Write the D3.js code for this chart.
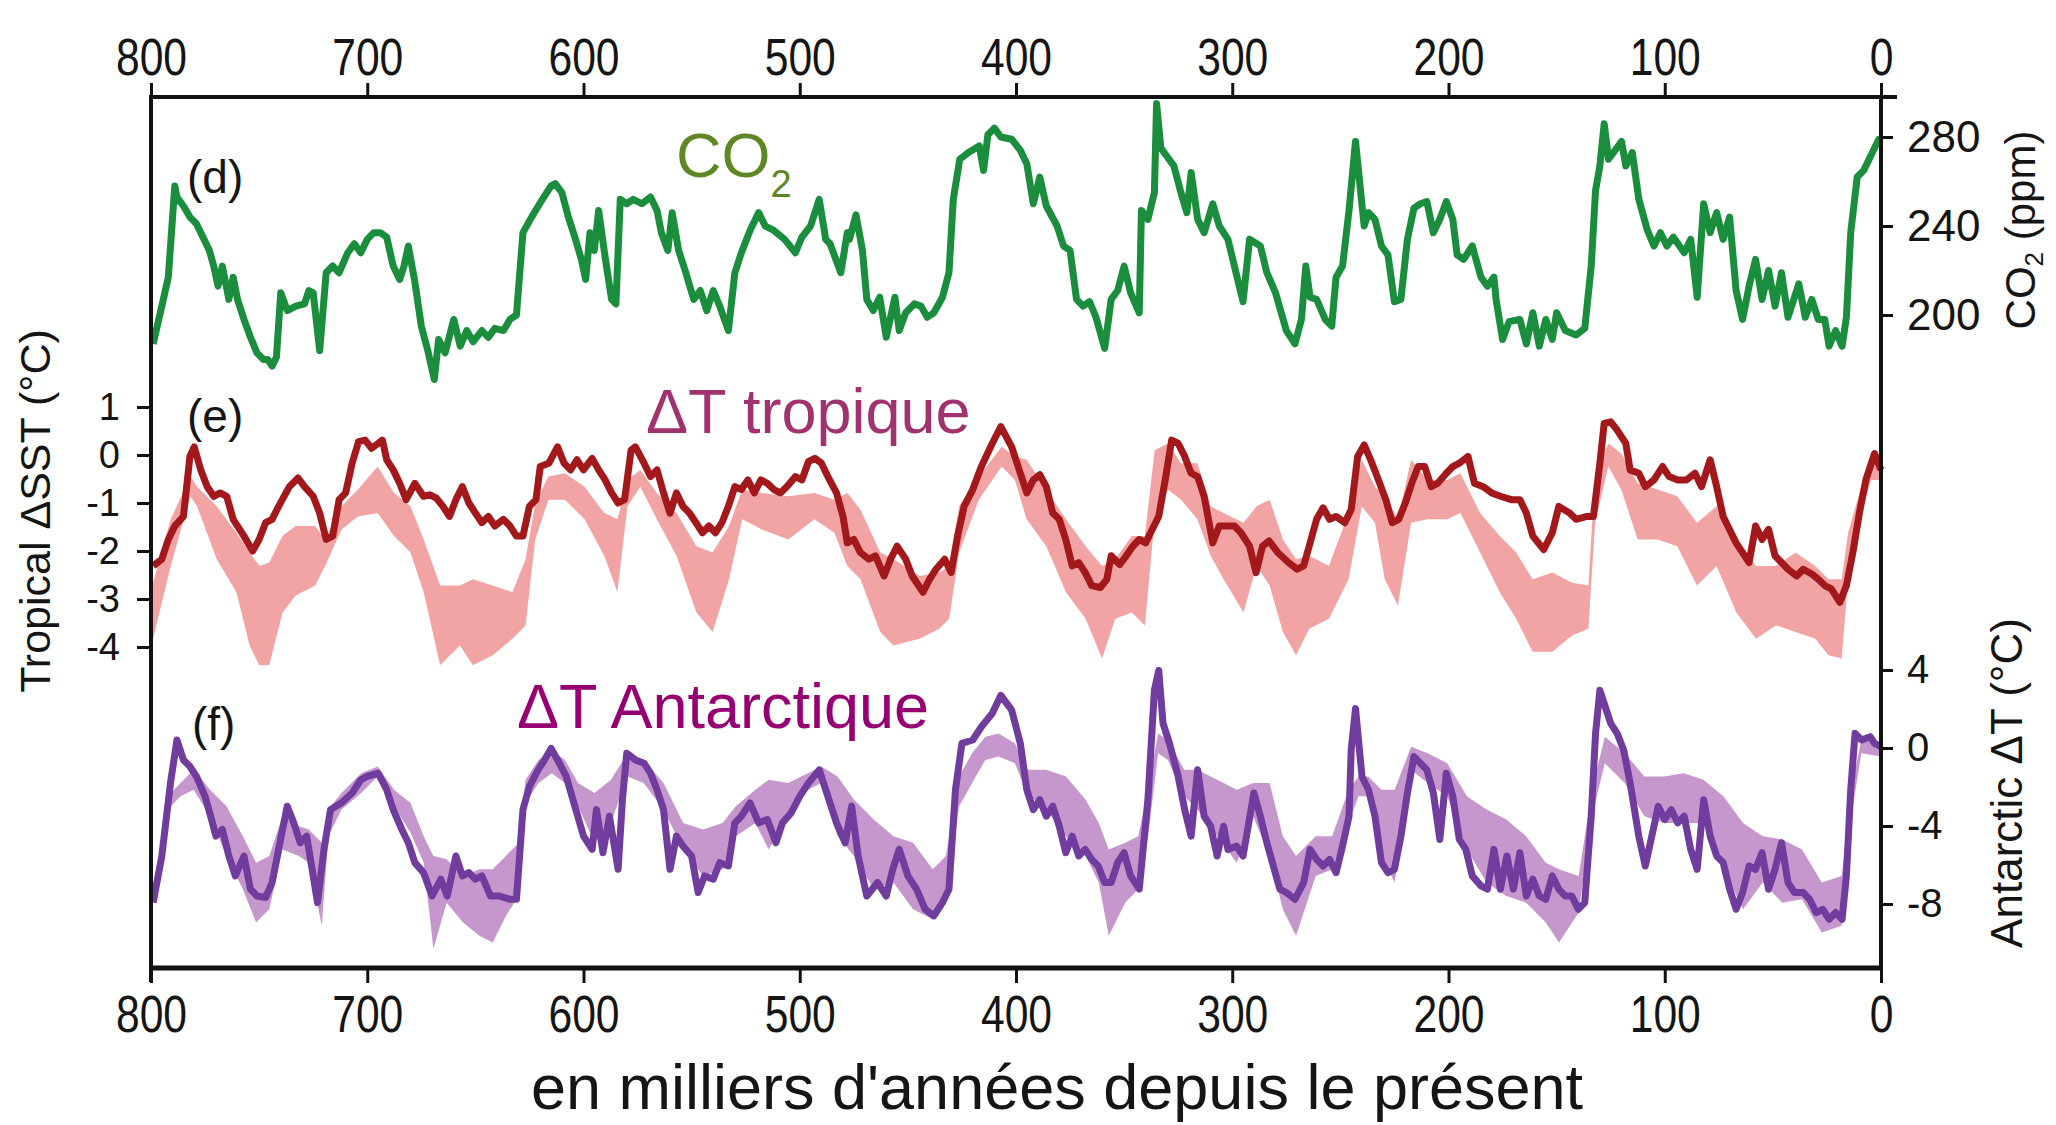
<!DOCTYPE html>
<html><head><meta charset="utf-8">
<script src="https://cdn.jsdelivr.net/npm/d3@7"></script>
<style>body{margin:0;background:#fff}svg{display:block}</style>
</head><body><svg id="c" width="2056" height="1125"></svg>
<script>
// ---------- data ----------
const xTicks = [800,700,600,500,400,300,200,100,0];
const co2Ticks = [200,240,280];
const sstTicks = [1,0,-1,-2,-3,-4];
const antTicks = [4,0,-4,-8];

// [age (ka), CO2 ppm]
const co2Series = [[799,187],[795,204],[792,217],[789,258],[788,253],[785,249],[782,244],[779,241],[776,235],[773,229],[771,222],[769,213],[767,222],[764,207],[762,217],[760,207],[757,198],[754,190],[751,183],[748,180],[746,180],[744,177],[742,181],[740,210],[737,202],[733,204],[729,205],[727,211],[725,210],[722,184],[719,219],[716,222],[713,219],[709,228],[706,232],[703,228],[700,234],[697,237],[694,237],[691,235],[688,222],[685,216],[683,222],[681,231],[678,215],[675,195],[672,184],[669,171],[667,189],[664,183],[660,198],[657,186],[654,193],[651,188],[647,193],[644,190],[641,194],[637,193],[634,198],[631,200],[628,237],[624,244],[619,252],[615,258],[613,259],[610,255],[607,244],[604,235],[601,225],[599,216],[597,237],[595,229],[593,247],[590,226],[587,207],[585,205],[583,252],[580,250],[577,252],[573,250],[569,253],[566,247],[564,237],[561,229],[559,246],[556,229],[553,220],[549,207],[546,211],[543,202],[540,211],[537,204],[533,193],[530,219],[527,228],[523,238],[519,246],[516,240],[512,238],[507,234],[502,228],[499,235],[495,240],[491,252],[488,234],[486,232],[481,219],[478,237],[477,234],[474,245],[471,229],[469,207],[466,202],[463,208],[460,190],[456,208],[454,193],[451,201],[447,205],[444,204],[441,199],[438,201],[434,208],[431,219],[429,252],[426,270],[422,273],[417,276],[415,265],[413,281],[410,284],[407,280],[402,279],[398,274],[395,268],[392,250],[389,262],[386,249],[381,240],[378,231],[375,229],[372,207],[369,204],[366,206],[363,199],[359,185],[356,207],[353,211],[350,222],[347,210],[343,201],[342,247],[339,243],[336,255],[335,295],[333,275],[330,271],[327,267],[324,256],[321,246],[319,264],[316,243],[313,237],[309,250],[306,240],[302,234],[299,222],[295,206],[292,234],[287,231],[284,219],[280,210],[275,193],[271,187],[268,198],[266,222],[264,208],[261,207],[257,198],[254,195],[252,217],[249,222],[246,247],[243,278],[239,240],[237,246],[234,243],[231,231],[228,227],[225,206],[222,207],[219,234],[216,248],[213,250],[210,251],[207,237],[204,243],[201,251],[198,243],[196,227],[193,225],[189,231],[185,217],[182,213],[179,217],[178,207],[175,189],[172,197],[167,198],[164,187],[161,201],[158,186],[155,198],[152,189],[150,201],[146,193],[141,191],[137,194],[134,222],[132,256],[130,267],[128,286],[126,270],[123,274],[120,278],[118,267],[115,273],[112,252],[108,238],[105,231],[102,237],[99,231],[96,235],[91,228],[88,234],[85,208],[82,250],[79,237],[76,246],[73,234],[70,244],[67,211],[64,198],[61,213],[58,225],[55,207],[52,220],[49,204],[46,219],[43,199],[38,214],[35,199],[32,207],[29,198],[26,198],[24,186],[21,193],[18,186],[16,199],[14,237],[11,262],[8,265],[5,271],[1,279],[0,279]];

// [age (ka), tropical ΔSST °C]
const sstSeries = [[799,-2.31],[795,-2.17],[792,-1.76],[789,-1.48],[785,-1.28],[782,-0.03],[780,0.17],[777,-0.31],[774,-0.66],[771,-0.86],[768,-0.79],[765,-0.86],[762,-1.34],[757,-1.69],[753,-2.0],[750,-1.76],[747,-1.41],[744,-1.34],[741,-1.07],[736,-0.66],[732,-0.48],[729,-0.66],[725,-0.86],[722,-1.21],[719,-1.76],[716,-1.69],[713,-0.93],[710,-0.79],[707,-0.17],[704,0.28],[701,0.31],[698,0.14],[695,0.24],[693,0.31],[691,-0.10],[688,-0.31],[685,-0.59],[682,-0.93],[678,-0.59],[674,-0.86],[671,-0.83],[668,-0.90],[665,-1.07],[662,-1.28],[659,-0.93],[656,-0.66],[653,-1.00],[650,-1.21],[647,-1.41],[644,-1.28],[641,-1.48],[637,-1.34],[634,-1.48],[631,-1.69],[628,-1.69],[625,-1.07],[622,-0.93],[620,-0.24],[616,-0.17],[612,0.17],[609,-0.17],[606,-0.31],[603,-0.10],[600,-0.31],[596,-0.07],[593,-0.31],[590,-0.52],[587,-0.79],[584,-1.00],[581,-0.93],[578,0.10],[576,0.17],[572,-0.17],[569,-0.45],[566,-0.31],[563,-0.79],[560,-1.21],[557,-0.79],[554,-1.07],[551,-1.21],[548,-1.41],[545,-1.62],[542,-1.48],[539,-1.62],[536,-1.41],[533,-1.07],[530,-0.66],[527,-0.72],[524,-0.52],[521,-0.79],[518,-0.52],[515,-0.59],[512,-0.72],[509,-0.79],[506,-0.66],[502,-0.45],[499,-0.52],[496,-0.14],[493,-0.07],[490,-0.17],[487,-0.45],[483,-0.79],[480,-1.28],[478,-1.83],[475,-1.76],[472,-2.03],[468,-2.17],[465,-2.10],[461,-2.52],[458,-2.17],[455,-1.90],[451,-2.17],[448,-2.52],[443,-2.86],[440,-2.59],[437,-2.38],[433,-2.17],[430,-2.45],[427,-1.69],[424,-1.07],[420,-0.72],[416,-0.24],[411,0.24],[407,0.59],[402,0.17],[398,-0.38],[395,-0.79],[392,-0.52],[389,-0.41],[386,-0.66],[383,-1.21],[380,-1.34],[377,-1.76],[374,-2.31],[371,-2.24],[368,-2.45],[365,-2.72],[361,-2.76],[358,-2.59],[356,-2.10],[352,-2.28],[349,-2.10],[346,-1.90],[343,-1.76],[340,-1.83],[337,-1.55],[334,-1.28],[331,-0.52],[328,0.31],[325,0.24],[322,-0.03],[319,-0.38],[316,-0.45],[313,-0.86],[309,-1.83],[306,-1.48],[302,-1.48],[299,-1.48],[296,-1.62],[292,-1.90],[289,-2.45],[286,-1.90],[283,-1.79],[279,-2.03],[274,-2.24],[270,-2.38],[267,-2.31],[264,-1.83],[261,-1.34],[258,-1.10],[255,-1.34],[252,-1.28],[248,-1.41],[245,-1.14],[242,-0.03],[239,0.21],[236,-0.10],[233,-0.45],[229,-0.93],[226,-1.41],[223,-1.34],[220,-1.00],[217,-0.59],[214,-0.24],[211,-0.24],[208,-0.66],[205,-0.59],[201,-0.38],[198,-0.24],[195,-0.17],[191,-0.03],[188,-0.59],[184,-0.66],[180,-0.79],[176,-0.86],[171,-0.93],[167,-0.93],[164,-1.21],[161,-1.69],[156,-1.97],[152,-1.62],[149,-1.07],[144,-1.21],[141,-1.34],[136,-1.28],[133,-1.28],[130,-0.17],[128,0.66],[125,0.69],[122,0.52],[118,0.24],[116,-0.31],[112,-0.38],[109,-0.66],[105,-0.52],[101,-0.24],[98,-0.45],[94,-0.52],[90,-0.52],[86,-0.38],[83,-0.66],[79,-0.10],[76,-0.66],[73,-1.28],[67,-1.83],[61,-2.24],[58,-1.48],[55,-1.76],[52,-1.55],[49,-2.10],[46,-2.24],[43,-2.38],[39,-2.52],[36,-2.38],[32,-2.48],[29,-2.59],[26,-2.72],[23,-2.79],[19,-3.07],[16,-2.72],[13,-2.03],[10,-1.21],[7,-0.52],[3,0.03],[0,-0.31]];

// [age (ka), upper, lower] tropical ΔSST envelope
const sstBand = [[799.4,-2.72,-3.90],[790.9,-1.34,-2.31],[781.8,-0.45,-0.86],[778.7,-0.66,-1.07],[769.6,-1.07,-2.17],[760.5,-1.62,-2.86],[754.4,-2.03,-3.97],[749.9,-2.31,-4.38],[745.3,-2.24,-4.38],[739.2,-1.69,-3.28],[733.2,-1.48,-2.93],[724.1,-1.48,-2.72],[719.5,-1.76,-2.31],[711.9,-1.07,-1.55],[704.3,-0.72,-1.28],[695.2,-0.24,-1.21],[687.6,-0.79,-1.69],[680,-1.07,-2.03],[673.9,-1.76,-2.86],[666.3,-2.72,-4.38],[657.2,-2.72,-3.97],[651.1,-2.59,-4.38],[642,-2.72,-4.17],[632.9,-2.86,-3.83],[626.8,-2.17,-3.55],[622.3,-1.00,-1.76],[616.2,-0.45,-0.93],[608.6,-0.38,-0.93],[599.5,-0.66,-1.34],[590.4,-1.21,-2.10],[584.3,-1.34,-2.86],[579.7,-0.52,-1.07],[573.7,-0.31,-0.66],[566.1,-0.79,-1.34],[557,-1.21,-2.10],[547.8,-1.90,-3.28],[540.3,-2.03,-3.69],[532.7,-1.48,-2.59],[526.6,-0.72,-1.34],[517.5,-0.79,-1.55],[505.3,-0.86,-1.76],[493.2,-0.79,-1.34],[484,-0.93,-1.62],[478,-0.79,-2.31],[471.9,-1.14,-2.59],[462.8,-2.03,-3.69],[456.7,-2.17,-3.97],[444.6,-2.52,-3.83],[435.5,-2.45,-3.62],[430.9,-2.31,-3.41],[426.3,-1.07,-2.03],[417.2,-0.45,-0.93],[406.6,0.17,-0.24],[400.5,-0.03,-0.52],[395.1,-0.10,-1.34],[386,-0.72,-1.90],[376.9,-1.34,-2.86],[367.8,-1.90,-3.41],[360.2,-2.31,-4.24],[354.1,-2.17,-3.41],[346.5,-1.69,-3.28],[340.4,-1.69,-3.55],[335.9,0.10,-1.34],[329.8,0.24,-0.72],[323.7,-0.17,-0.93],[316.1,-0.17,-1.34],[310,-1.07,-2.10],[304,-1.21,-2.59],[294.8,-1.41,-3.28],[288.8,-1.07,-2.31],[282.7,-0.93,-2.72],[276.6,-1.76,-3.69],[270.5,-2.17,-4.17],[264.4,-2.10,-3.62],[255.3,-2.31,-3.41],[246.2,-1.21,-2.59],[240.1,-0.10,-1.07],[234,-0.66,-1.41],[229.5,-0.86,-2.59],[223.4,-1.34,-3.14],[217.3,-0.10,-1.41],[209.7,-0.52,-1.34],[200.6,-0.52,-1.34],[194.5,-0.38,-1.21],[185.4,-1.21,-2.03],[176.3,-1.69,-2.86],[168.7,-2.03,-3.41],[161.1,-2.59,-4.10],[152,-2.45,-4.10],[142.9,-2.66,-3.76],[135.3,-2.72,-3.62],[132.2,-0.38,-1.41],[126.1,0.24,-0.24],[120.1,0.03,-0.72],[112.5,-0.59,-1.76],[103.3,-0.72,-1.76],[94.2,-0.86,-1.90],[85.1,-1.41,-2.72],[76,-1.07,-2.31],[66.9,-1.76,-3.28],[57.8,-2.31,-3.83],[48.6,-2.31,-3.55],[39.5,-2.03,-3.69],[30.4,-2.31,-3.83],[24.3,-2.59,-4.17],[18.2,-2.59,-4.24],[15.2,-1.62,-2.59],[9.1,-0.66,-1.21],[4.6,-0.10,-0.52],[0,-0.24,-0.52]];

// [age (ka), Antarctic ΔT °C]
const antSeries = [[799,-7.93],[795,-5.54],[791,-1.80],[788,0.41],[785,-0.61],[782,-0.95],[779,-1.46],[775,-2.48],[772,-3.67],[770,-4.52],[767,-4.18],[764,-5.54],[761,-6.56],[757,-5.54],[754,-7.24],[751,-7.59],[747,-7.67],[744,-6.90],[741,-5.20],[737,-2.99],[734,-3.84],[731,-4.86],[728,-4.52],[726,-5.88],[723,-7.93],[720,-5.20],[717,-3.16],[712,-2.82],[707,-2.31],[703,-1.63],[700,-1.46],[695,-1.29],[691,-2.14],[688,-3.16],[684,-4.18],[681,-4.86],[678,-5.88],[674,-6.39],[670,-7.59],[666,-6.73],[663,-7.59],[659,-5.54],[656,-6.56],[653,-6.39],[650,-6.73],[647,-6.56],[643,-7.59],[639,-7.59],[634,-7.76],[631,-7.76],[628,-3.16],[625,-1.97],[621,-1.12],[618,-0.61],[615,-0.02],[612,-0.61],[608,-1.46],[604,-2.99],[600,-4.52],[596,-5.20],[594,-3.16],[591,-5.37],[588,-3.50],[584,-6.22],[582,-2.65],[580,-0.27],[576,-0.61],[572,-0.78],[569,-1.29],[566,-2.14],[563,-3.16],[560,-6.22],[557,-4.52],[554,-5.03],[550,-5.54],[547,-7.41],[544,-6.56],[540,-6.73],[537,-5.88],[533,-6.05],[530,-3.84],[527,-3.50],[523,-2.82],[519,-3.84],[515,-3.67],[511,-4.86],[508,-3.84],[504,-3.33],[500,-2.48],[496,-1.80],[491,-1.12],[487,-2.48],[483,-3.84],[479,-4.86],[476,-2.99],[473,-5.54],[469,-7.59],[464,-6.90],[460,-7.59],[457,-6.22],[454,-5.20],[450,-6.56],[446,-7.24],[442,-8.27],[438,-8.61],[434,-7.93],[431,-7.24],[428,-2.14],[425,0.24],[420,0.41],[416,1.09],[411,1.77],[407,2.70],[402,1.94],[398,0.24],[395,-2.14],[392,-3.16],[389,-2.65],[386,-3.50],[383,-2.99],[380,-4.01],[377,-5.37],[374,-4.52],[371,-5.54],[368,-5.20],[365,-5.71],[362,-6.05],[359,-6.90],[356,-6.90],[353,-5.88],[350,-5.37],[347,-6.56],[343,-7.24],[339,-2.65],[336,2.96],[334,3.98],[332,1.26],[329,0.24],[325,-1.46],[322,-3.16],[319,-4.52],[316,-1.12],[313,-3.50],[310,-4.01],[307,-5.54],[304,-4.01],[302,-5.20],[298,-5.03],[295,-5.54],[290,-2.31],[287,-3.50],[284,-4.86],[281,-6.05],[278,-7.24],[275,-7.41],[271,-7.76],[267,-6.90],[264,-5.20],[261,-5.71],[258,-6.05],[255,-5.71],[252,-6.39],[249,-5.03],[246,-3.50],[245,-0.10],[243,2.02],[240,-1.46],[237,-2.14],[234,-3.50],[231,-5.88],[228,-6.39],[225,-6.22],[222,-4.52],[219,-2.31],[216,-0.44],[213,-0.78],[210,-1.12],[207,-2.31],[204,-4.69],[201,-1.29],[198,-2.48],[195,-4.69],[192,-5.20],[189,-6.56],[185,-7.07],[182,-7.24],[179,-5.20],[176,-7.24],[173,-5.54],[170,-7.24],[167,-5.37],[164,-7.59],[161,-6.73],[158,-7.59],[155,-7.76],[152,-6.56],[149,-7.24],[146,-7.59],[143,-7.59],[140,-8.27],[137,-7.93],[134,-3.50],[132,0.75],[130,2.96],[128,2.28],[125,1.26],[122,0.75],[119,-0.10],[116,-1.80],[112,-4.52],[109,-6.05],[106,-4.52],[103,-2.99],[100,-3.67],[97,-3.16],[94,-3.84],[91,-3.50],[88,-5.20],[85,-6.22],[82,-2.65],[79,-4.52],[76,-5.54],[73,-5.88],[70,-7.24],[67,-8.27],[64,-7.41],[61,-6.05],[58,-6.22],[55,-5.37],[52,-7.24],[49,-6.22],[46,-4.86],[43,-6.90],[40,-7.41],[36,-7.41],[33,-7.76],[30,-8.44],[27,-8.27],[24,-8.78],[21,-8.44],[18,-8.78],[16,-6.56],[14,-2.14],[12,0.75],[9,0.41],[5,0.58],[3,0.24],[0,0.07]];

// [age (ka), upper, lower] Antarctic ΔT envelope
const antBand = [[799.4,-7.59,-8.10],[790.9,-2.31,-2.99],[786.3,-1.80,-2.48],[780.3,-1.12,-2.14],[772.7,-2.14,-3.50],[765.1,-2.99,-5.54],[757.5,-4.52,-7.24],[751.4,-5.88,-8.95],[745.3,-5.54,-8.27],[739.2,-3.50,-5.20],[731.6,-4.01,-5.54],[727.1,-4.18,-5.88],[721,-4.86,-9.12],[718,-3.16,-4.52],[711.9,-2.31,-3.16],[702.8,-1.29,-2.31],[695.2,-0.95,-1.46],[687.6,-2.14,-2.99],[680,-2.82,-4.35],[673.9,-4.52,-5.88],[669.4,-5.54,-10.31],[663.3,-5.71,-7.93],[655.7,-6.56,-8.95],[648.1,-6.22,-9.63],[642,-6.22,-9.97],[635.9,-5.54,-8.61],[629.9,-4.86,-7.59],[626.8,-1.63,-2.82],[620.8,-0.61,-1.80],[614.7,-0.10,-1.29],[608.6,-0.61,-1.80],[602.5,-1.80,-2.99],[594.9,-2.31,-4.86],[587.3,-1.63,-3.84],[579.7,-0.27,-1.46],[572.2,-0.61,-1.80],[563,-1.80,-3.16],[553.9,-3.84,-5.20],[544.8,-4.18,-6.56],[535.7,-3.84,-6.22],[529.6,-2.99,-4.52],[520.5,-2.14,-3.84],[514.4,-1.63,-5.20],[505.3,-1.80,-3.50],[496.2,-1.29,-2.14],[490.1,-0.95,-1.80],[482.5,-1.46,-4.52],[474.9,-2.65,-5.54],[465.8,-3.67,-7.24],[456.7,-4.52,-6.90],[447.6,-4.86,-8.27],[438.5,-6.22,-8.78],[432.4,-5.54,-7.93],[426.3,-1.46,-2.99],[420.3,-0.27,-1.80],[414.2,0.58,-0.61],[408.1,0.75,-0.44],[400.5,0.24,-0.78],[395.1,-1.12,-2.31],[386,-1.12,-3.16],[376.9,-1.46,-4.52],[367.8,-2.65,-5.54],[361.7,-3.84,-6.90],[357.1,-5.20,-9.63],[349.5,-4.86,-7.93],[343.5,-4.52,-7.24],[338.9,-2.14,-4.52],[334.3,0.75,-0.27],[329.8,0.41,-0.61],[322.2,-1.12,-2.48],[316.1,-1.12,-3.16],[307,-1.63,-4.52],[297.9,-2.14,-5.88],[290.3,-1.80,-3.50],[282.7,-1.80,-5.58],[276.6,-4.52,-8.27],[270.5,-5.54,-9.63],[261.4,-4.52,-6.56],[253.8,-4.52,-6.22],[246.2,-2.14,-3.84],[241.6,-1.46,-2.48],[237.1,-1.46,-2.48],[231,-2.14,-5.54],[224.9,-2.14,-6.90],[217.3,0.07,-1.12],[209.7,-0.27,-1.80],[200.6,-0.78,-2.48],[191.5,-2.48,-5.20],[182.4,-3.16,-6.90],[173.3,-3.67,-7.59],[164.1,-4.52,-7.93],[155,-5.88,-8.95],[148.9,-6.22,-9.97],[139.8,-6.56,-8.44],[133.7,-2.14,-3.50],[127.7,0.58,-0.78],[118.5,-0.27,-1.80],[109.4,-1.46,-3.50],[100.3,-1.46,-3.84],[91.2,-1.29,-3.84],[82.1,-1.63,-3.84],[72.9,-2.48,-6.22],[63.8,-3.84,-8.27],[54.7,-4.52,-6.90],[45.6,-4.69,-7.93],[36.5,-5.20,-7.76],[27.4,-6.90,-9.46],[18.2,-6.56,-9.12],[13.7,-2.14,-3.50],[9.1,0.41,-0.27],[0,0.24,-0.44]];

// ---------- drawing ----------
const FONT = '"Liberation Sans", Arial, Helvetica, sans-serif';
const svg = d3.select("#c").attr("font-family", FONT);

const x = d3.scaleLinear().domain([800, 0]).range([151, 1881]);
const yCO2 = d3.scaleLinear().domain([200, 280]).range([315, 137]);
const ySST = d3.scaleLinear().domain([-4, 1]).range([647, 407]);
const yAnt = d3.scaleLinear().domain([-8, 4]).range([904, 670]);

function band(ys) {
  return d3.area().x(d => x(d[0])).y0(d => ys(d[2])).y1(d => ys(d[1]));
}
function line(ys) {
  return d3.line().x(d => x(d[0])).y(d => ys(d[1]));
}

svg.append("path").datum(sstBand).attr("d", band(ySST)).attr("fill", "#f2a3a3");
svg.append("path").datum(antBand).attr("d", band(yAnt)).attr("fill", "#c597cc");

svg.append("path").datum(co2Series).attr("d", line(yCO2))
  .attr("fill", "none").attr("stroke", "#1b8e3d").attr("stroke-width", 7).attr("stroke-linejoin", "round");
svg.append("path").datum(sstSeries).attr("d", line(ySST))
  .attr("fill", "none").attr("stroke", "#a3181a").attr("stroke-width", 7).attr("stroke-linejoin", "round");
svg.append("path").datum(antSeries).attr("d", line(yAnt))
  .attr("fill", "none").attr("stroke", "#703c9d").attr("stroke-width", 7).attr("stroke-linejoin", "round");

// frame lines
const frame = svg.append("g").attr("stroke", "#111");
frame.append("line").attr("x1", 149).attr("x2", 1897).attr("y1", 97).attr("y2", 97).attr("stroke-width", 4);
frame.append("line").attr("x1", 149).attr("x2", 1883).attr("y1", 968).attr("y2", 968).attr("stroke-width", 5);
frame.append("line").attr("x1", 151).attr("x2", 151).attr("y1", 95).attr("y2", 982).attr("stroke-width", 4);
frame.append("line").attr("x1", 1881).attr("x2", 1881).attr("y1", 95).attr("y2", 968).attr("stroke-width", 4);

function styleAxis(g, fs) {
  g.select(".domain").remove();
  g.attr("font-family", FONT).attr("font-size", fs);
  g.selectAll(".tick line").attr("stroke", "#111").attr("stroke-width", 3);
  g.selectAll(".tick text").attr("fill", "#151515");
}

const fmt = d => String(d);

const gTop = svg.append("g").attr("transform", "translate(0,97)")
  .call(d3.axisTop(x).tickValues(xTicks).tickFormat(fmt).tickSize(14).tickSizeOuter(0).tickPadding(8));
styleAxis(gTop, 52);
gTop.selectAll(".tick text").attr("transform", "scale(0.82,1)");

const gBot = svg.append("g").attr("transform", "translate(0,968)")
  .call(d3.axisBottom(x).tickValues(xTicks).tickFormat(fmt).tickSize(15).tickSizeOuter(0).tickPadding(12));
styleAxis(gBot, 52);
gBot.selectAll(".tick text").attr("transform", "scale(0.82,1)");

const gSST = svg.append("g").attr("transform", "translate(151,0)")
  .call(d3.axisLeft(ySST).tickValues(sstTicks).tickFormat(fmt).tickSize(14).tickSizeOuter(0).tickPadding(17));
styleAxis(gSST, 38);

const gCO2 = svg.append("g").attr("transform", "translate(1881,0)")
  .call(d3.axisRight(yCO2).tickValues(co2Ticks).tickFormat(fmt).tickSize(12).tickSizeOuter(0).tickPadding(14));
styleAxis(gCO2, 44);

const gAnt = svg.append("g").attr("transform", "translate(1881,0)")
  .call(d3.axisRight(yAnt).tickValues(antTicks).tickFormat(fmt).tickSize(12).tickSizeOuter(0).tickPadding(14));
styleAxis(gAnt, 40);

// axis titles
svg.append("text").attr("transform", "translate(50,511) rotate(-90)")
  .attr("text-anchor", "middle").attr("font-size", 43).attr("fill", "#151515")
  .text("Tropical ΔSST (°C)");

const co2t = svg.append("text").attr("transform", "translate(2035,230) rotate(-90)")
  .attr("text-anchor", "middle").attr("font-size", 42).attr("fill", "#151515");
co2t.append("tspan").text("CO");
co2t.append("tspan").attr("font-size", 26).attr("dy", 8).text("2");
co2t.append("tspan").attr("dy", -8).text(" (ppm)");

svg.append("text").attr("transform", "translate(2022,783) rotate(-90)")
  .attr("text-anchor", "middle").attr("font-size", 44).attr("fill", "#151515")
  .text("Antarctic ΔT (°C)");

svg.append("text").attr("x", 1057).attr("y", 1109).attr("text-anchor", "middle")
  .attr("font-size", 63).attr("fill", "#151515")
  .text("en milliers d'années depuis le présent");

// panel letters
[["(d)", 187, 193], ["(e)", 187, 432], ["(f)", 192, 740]].forEach(([t, px, py]) => {
  svg.append("text").attr("x", px).attr("y", py).attr("font-size", 46).attr("fill", "#151515").text(t);
});

// series labels
const co2l = svg.append("text").attr("x", 676).attr("y", 177).attr("font-size", 63).attr("fill", "#5f8723");
co2l.append("tspan").text("CO");
co2l.append("tspan").attr("font-size", 38).attr("dy", 20).text("2");

svg.append("text").attr("x", 646).attr("y", 433).attr("font-size", 63).attr("fill", "#a0326e")
  .text("ΔT tropique");
svg.append("text").attr("x", 517).attr("y", 728).attr("font-size", 63).attr("fill", "#970072")
  .text("ΔT Antarctique");
</script>
</body></html>
